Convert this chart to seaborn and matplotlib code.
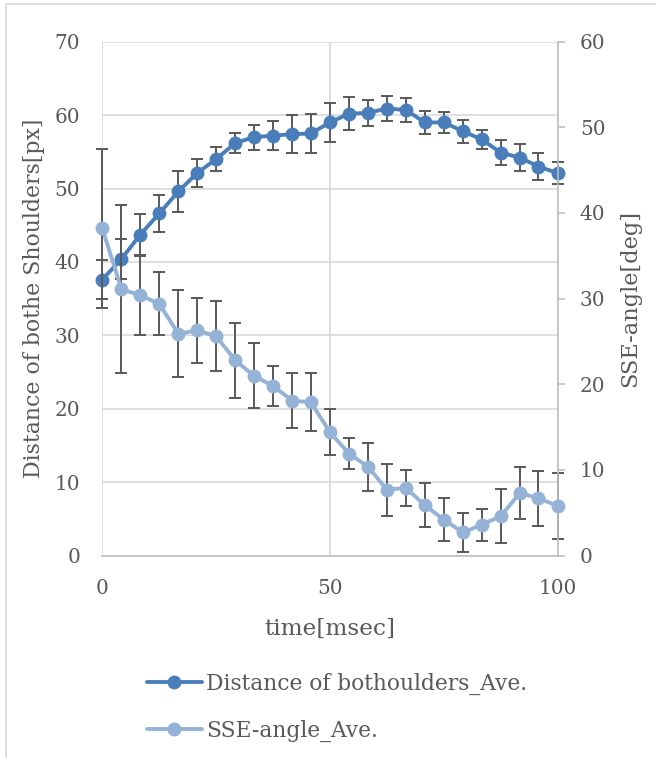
import numpy as np
import pandas as pd
import matplotlib.pyplot as plt
import seaborn as sns
from matplotlib.patches import Rectangle

time_ms = [0, 4.2, 8.3, 12.5, 16.7, 20.8, 25, 29.2, 33.3, 37.5, 41.7, 45.8, 50,
           54.2, 58.3, 62.5, 66.7, 70.8, 75, 79.2, 83.3, 87.5, 91.7, 95.8, 100]
shoulder_ave = [37.6, 40.4, 43.7, 46.6, 49.6, 52.1, 54.0, 56.2, 57.0, 57.2, 57.4, 57.5, 59.0,
                60.2, 60.3, 60.9, 60.7, 59.0, 59.0, 57.8, 56.7, 54.9, 54.2, 53.0, 52.1]
shoulder_sd = [2.7, 2.75, 2.8, 2.5, 2.8, 1.9, 1.6, 1.4, 1.7, 1.95, 2.6, 2.6, 2.7,
               2.2, 1.8, 1.7, 1.65, 1.6, 1.45, 1.6, 1.25, 1.65, 1.85, 1.9, 1.5]
angle_ave = [38.2, 31.1, 30.4, 29.4, 25.9, 26.3, 25.6, 22.8, 21.0, 19.8, 18.1, 17.9, 14.4,
             11.9, 10.4, 7.7, 7.9, 5.9, 4.2, 2.7, 3.6, 4.6, 7.3, 6.7, 5.8]
angle_sd = [9.3, 9.8, 4.6, 3.7, 5.1, 3.8, 4.1, 4.4, 3.8, 2.3, 3.2, 3.4, 2.7,
            1.8, 2.8, 3.05, 2.1, 2.6, 2.5, 2.3, 1.85, 3.15, 3.0, 3.2, 3.9]

labels = ["Distance of bothoulders_Ave.", "SSE-angle_Ave."]
x_title = "time[msec]"
y_title = "Distance of bothe Shoulders[px]"
y2_title = "SSE-angle[deg]"

df = pd.DataFrame({"time": time_ms, "shoulder": shoulder_ave, "shoulder_sd": shoulder_sd,
                   "angle": angle_ave, "angle_sd": angle_sd})

sns.set_style("white")
plt.rcParams["font.family"] = ["DejaVu Serif"]

text_c = "#595959"
grid_c = "#D9D9D9"
axis_c = "#BFBFBF"
dark_blue = "#4A7EBB"
light_blue = "#95B3D7"

fig = plt.figure(figsize=(6.56, 7.58), dpi=100)
renderer = fig.canvas.get_renderer()


def size_for(s, target_px, base=10):
    # font size that makes the string about target_px wide (the Excel font is wider)
    t = fig.text(0, 0, s, fontsize=base)
    w = t.get_window_extent(renderer=renderer).width
    t.remove()
    return base * target_px / w


tick_fs = size_for("100", 38)
xlab_fs = size_for(x_title, 132)
ylab_fs = size_for(y_title, 360)
y2lab_fs = size_for(y2_title, 178)
leg_fs = size_for(labels[0], 322)

ax = fig.add_axes([0.156, 0.267, 0.694, 0.678])
ax2 = ax.twinx()

# left axis series
ax.errorbar(df["time"], df["shoulder"], yerr=df["shoulder_sd"], fmt="none", ecolor=text_c,
            elinewidth=1.4, capsize=4.5, capthick=1.4, zorder=2, clip_on=False)
sns.lineplot(data=df, x="time", y="shoulder", ax=ax, color=dark_blue, marker="o",
             markersize=10, markeredgewidth=0, linewidth=2.8, zorder=3, clip_on=False)
h1 = ax.lines[-1]

# right axis series
ax2.errorbar(df["time"], df["angle"], yerr=df["angle_sd"], fmt="none", ecolor=text_c,
             elinewidth=1.4, capsize=4.5, capthick=1.4, zorder=2, clip_on=False)
sns.lineplot(data=df, x="time", y="angle", ax=ax2, color=light_blue, marker="o",
             markersize=10, markeredgewidth=0, linewidth=2.8, zorder=3, clip_on=False)
h2 = ax2.lines[-1]

ax.set_xlim(0, 100)
ax.set_ylim(0, 70)
ax2.set_ylim(0, 60)
ax.set_xticks([0, 50, 100])
ax.set_yticks(range(0, 71, 10))
ax2.set_yticks(range(0, 61, 10))

ax.grid(True, color=grid_c, linewidth=1.2)
ax.set_axisbelow(True)
for s in ["top", "left", "right"]:
    ax.spines[s].set_visible(False)
ax.spines["bottom"].set_color(axis_c)
ax.spines["bottom"].set_linewidth(1.2)
for s in ["top", "left", "bottom"]:
    ax2.spines[s].set_visible(False)
ax2.spines["right"].set_color(axis_c)
ax2.spines["right"].set_linewidth(1.2)

ax.tick_params(axis="x", length=0, labelsize=tick_fs, labelcolor=text_c, pad=17)
ax.tick_params(axis="y", length=0, labelsize=tick_fs, labelcolor=text_c, pad=16)
ax2.tick_params(axis="y", length=5, width=1.2, color=axis_c, labelsize=tick_fs,
                labelcolor=text_c, pad=11)

ax.set_xlabel(x_title, fontsize=xlab_fs, color=text_c, labelpad=14)
ax.set_ylabel(y_title, fontsize=ylab_fs, color=text_c, labelpad=7)
ax2.set_ylabel(y2_title, fontsize=y2lab_fs, color=text_c, labelpad=10)

fig.legend(handles=[h1, h2], labels=labels, loc="center", bbox_to_anchor=(0.514, 0.067),
           frameon=False, fontsize=leg_fs, labelcolor=text_c, handlelength=2.5,
           handletextpad=0.2, labelspacing=1.15)

# chart area border
fig.patches.append(Rectangle((6 / 656, -0.05), 1.1, 1 - 4 / 758 + 0.05, transform=fig.transFigure,
                             fill=False, edgecolor=grid_c, linewidth=1.2))

fig.savefig("out.png", dpi=100)
